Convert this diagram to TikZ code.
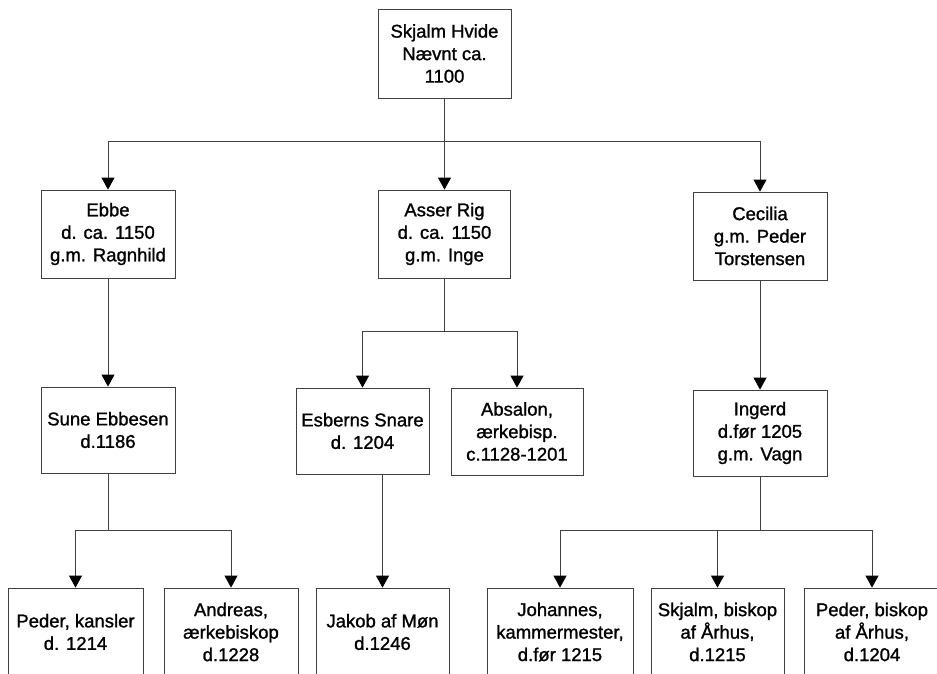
\documentclass[tikz,border=0pt]{standalone}
\usepackage{fontspec}
\setmainfont{Liberation Sans}
\newfontfamily\scanfont{Liberation Sans}[FakeBold=1.2]
\usetikzlibrary{arrows.meta}
\begin{document}
\begin{tikzpicture}[x=1pt,y=-1pt,
  person/.style={draw=black!75, line width=0.8pt, inner sep=0pt, align=center,
    font=\scanfont\fontsize{18.5}{22.5}\selectfont, text=black},
  link/.style={draw=black!75, line width=0.8pt, -{Triangle[width=13pt,length=12pt,fill=black,color=black]}},
  plain/.style={draw=black!75, line width=0.8pt}]
\useasboundingbox (0,0) rectangle (937,673);
\fill[white] (0,0) rectangle (937,673);
% generation 0
\node[person, minimum width=133pt, minimum height=89pt] (root) at (444.5,53.5) {Skjalm Hvide\\Nævnt ca.\\1100};
% generation 1
\node[person, minimum width=134pt, minimum height=88pt] (ebbe) at (108,234) {Ebbe\\d. ca. 1150\\g.m. Ragnhild};
\node[person, minimum width=132pt, minimum height=88pt] (asser) at (444.5,234) {Asser Rig\\d. ca. 1150\\g.m. Inge};
\node[person, minimum width=134pt, minimum height=88pt] (cecilia) at (760,236) {Cecilia\\g.m. Peder\\Torstensen};
% generation 2
\node[person, minimum width=134pt, minimum height=86pt] (sune) at (108,430) {Sune Ebbesen\\d.1186};
\node[person, minimum width=133pt, minimum height=86pt] (esberns) at (362.5,431) {Esberns Snare\\d. 1204};
\node[person, minimum width=132pt, minimum height=87pt] (absalon) at (517,431.5) {Absalon,\\ærkebisp.\\c.1128-1201};
\node[person, minimum width=134pt, minimum height=86pt] (ingerd) at (760,433) {Ingerd\\d.før 1205\\g.m. Vagn};
% generation 3
\node[person, minimum width=135pt, minimum height=88pt] (pederk) at (75.5,632) {Peder, kansler\\d. 1214};
\node[person, minimum width=134pt, minimum height=88pt] (andreas) at (231,632) {Andreas,\\ærkebiskop\\d.1228};
\node[person, minimum width=133pt, minimum height=88pt] (jakob) at (382.5,632) {Jakob af Møn\\d.1246};
\node[person, minimum width=146pt, minimum height=88pt] (johannes) at (560,632) {Johannes,\\kammermester,\\d.før 1215};
\node[person, minimum width=133pt, minimum height=88pt] (skjalmb) at (717.5,632) {Skjalm, biskop\\af Århus,\\d.1215};
\node[person, minimum width=136pt, minimum height=88pt] (pederb) at (872,632) {Peder, biskop\\af Århus,\\d.1204};
% bus coordinates
\coordinate (bus0) at (444.5,141);
\coordinate (busA) at (444.5,331);
\coordinate (busS) at (108,530);
\coordinate (busI) at (760,530);
% connectors
\draw[plain] (root.south) -- (bus0);
\draw[link] (bus0) -| (ebbe.north);
\draw[link] (bus0) -- (asser.north);
\draw[link] (bus0) -| (cecilia.north);
\draw[plain] (asser.south) -- (busA);
\draw[link] (busA) -| (esberns.north);
\draw[link] (busA) -| (absalon.north);
\draw[link] (ebbe.south) -- (sune.north);
\draw[link] (cecilia.south) -- (ingerd.north);
\draw[plain] (sune.south) -- (busS);
\draw[link] (busS) -| (pederk.north);
\draw[link] (busS) -| (andreas.north);
\draw[link] (esberns.south -| jakob.north) -- (jakob.north);
\draw[plain] (ingerd.south) -- (busI);
\draw[link] (busI) -| (johannes.north);
\draw[link] (busI) -| (skjalmb.north);
\draw[link] (busI) -| (pederb.north);
\end{tikzpicture}
\end{document}
